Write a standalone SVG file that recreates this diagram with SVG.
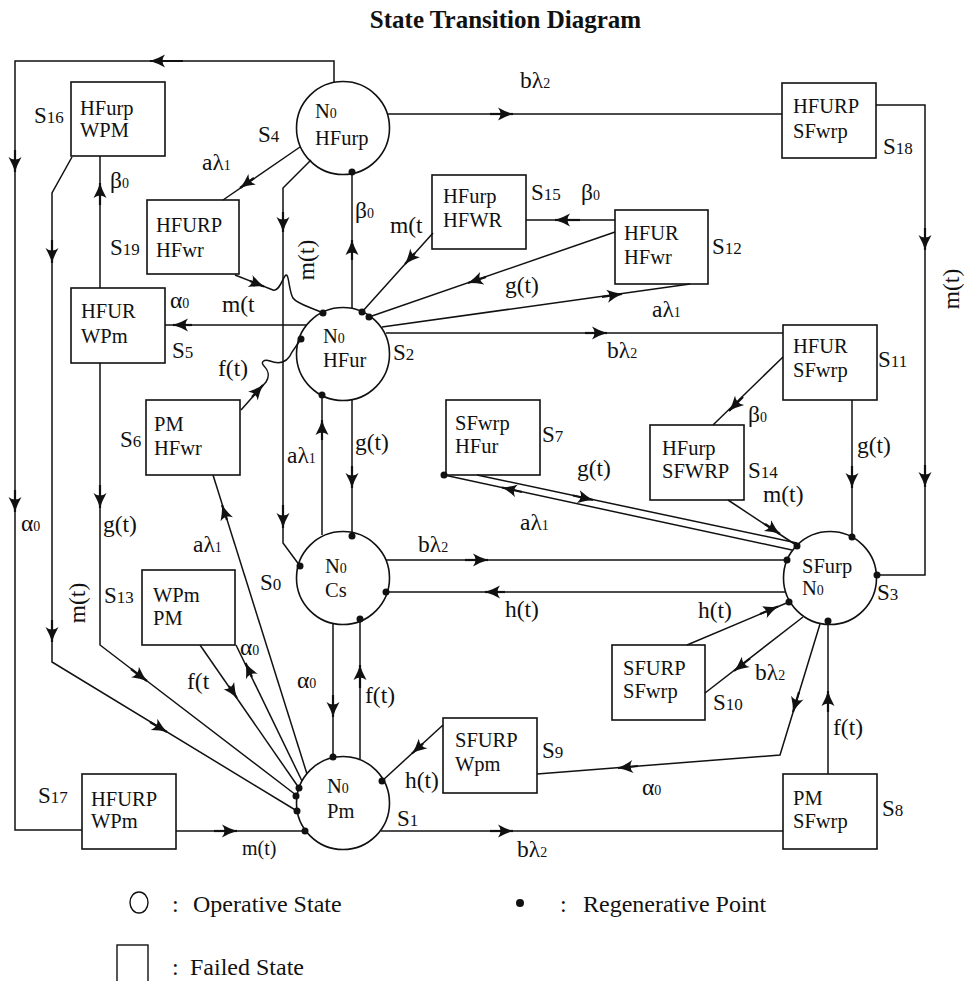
<svg xmlns="http://www.w3.org/2000/svg" width="967" height="981" viewBox="0 0 967 981">
<style>
text{font-family:"Liberation Serif","Times New Roman",serif;fill:#111}
.tt{font-size:25px;font-weight:bold}
.nt{font-size:20.5px}
.lb{font-size:23.5px}
.ls{font-size:20px}
.sl{font-size:23px}
.s{font-size:14px}
.sd{font-size:17px}
.lg{font-size:24px}
.st{fill:#fff;stroke:#111;stroke-width:1.6}
.ln{fill:none;stroke:#111;stroke-width:1.5}
.ah{fill:none;stroke:#111;stroke-width:2.2;marker-end:url(#ar)}
.dot{fill:#111}
</style>
<defs>
<marker id="ar" markerUnits="userSpaceOnUse" markerWidth="20" markerHeight="16" viewBox="-17 -8 19 16" refX="0" refY="0" orient="auto">
<path d="M0,0 Q-7,-2 -15,-6.5 Q-10,0 -15,6.5 Q-7,2 0,0 Z" fill="#111"/>
</marker>
</defs>
<rect width="967" height="981" fill="#fff"/>
<text class="tt" x="505.5" y="28" text-anchor="middle">State Transition Diagram</text>

<!-- operative states -->
<g id="S4"><circle class="st" cx="343" cy="128" r="46.5"/><text class="nt" x="315" y="118">N<tspan class="s">0</tspan></text><text class="nt" x="315" y="145">HFurp</text><text class="sl" x="258" y="142">S<tspan class="sd">4</tspan></text></g>
<g id="S2"><circle class="st" cx="343" cy="354" r="46.5"/><text class="nt" x="323" y="343">N<tspan class="s">0</tspan></text><text class="nt" x="323" y="367">HFur</text><text class="sl" x="393" y="360">S<tspan class="sd">2</tspan></text></g>
<g id="S0"><circle class="st" cx="343" cy="578" r="46.5"/><text class="nt" x="325" y="573">N<tspan class="s">0</tspan></text><text class="nt" x="325" y="597">Cs</text><text class="sl" x="260" y="590">S<tspan class="sd">0</tspan></text></g>
<g id="S1"><circle class="st" cx="343" cy="803" r="46.5"/><text class="nt" x="327" y="793">N<tspan class="s">0</tspan></text><text class="nt" x="327" y="818">Pm</text><text class="sl" x="397" y="826">S<tspan class="sd">1</tspan></text></g>
<g id="S3"><circle class="st" cx="830" cy="578" r="46.5"/><text class="nt" x="802" y="573">SFurp</text><text class="nt" x="802" y="595">N<tspan class="s">0</tspan></text><text class="sl" x="877" y="600">S<tspan class="sd">3</tspan></text></g>

<!-- failed states -->
<g id="S16"><rect class="st" x="71" y="82" width="94" height="74"/><text class="nt" x="80" y="115">HFurp</text><text class="nt" x="80" y="137">WPM</text><text class="sl" x="34" y="123">S<tspan class="sd">16</tspan></text></g>
<g id="S19"><rect class="st" x="147" y="200" width="92" height="74"/><text class="nt" x="156" y="232">HFURP</text><text class="nt" x="156" y="257">HFwr</text><text class="sl" x="110" y="255">S<tspan class="sd">19</tspan></text></g>
<g id="S5"><rect class="st" x="71" y="288" width="94" height="75"/><text class="nt" x="81" y="318">HFUR</text><text class="nt" x="81" y="343">WPm</text><text class="sl" x="172" y="358">S<tspan class="sd">5</tspan></text></g>
<g id="S6"><rect class="st" x="146" y="400" width="94" height="75"/><text class="nt" x="154" y="431">PM</text><text class="nt" x="154" y="455">HFwr</text><text class="sl" x="120" y="447">S<tspan class="sd">6</tspan></text></g>
<g id="S13"><rect class="st" x="142" y="570" width="93" height="75"/><text class="nt" x="153" y="602">WPm</text><text class="nt" x="153" y="625">PM</text><text class="sl" x="104" y="603">S<tspan class="sd">13</tspan></text></g>
<g id="S17"><rect class="st" x="82" y="774" width="94" height="75"/><text class="nt" x="91" y="806">HFURP</text><text class="nt" x="91" y="828">WPm</text><text class="sl" x="38" y="803">S<tspan class="sd">17</tspan></text></g>
<g id="S15"><rect class="st" x="432" y="175" width="94" height="74"/><text class="nt" x="443" y="203">HFurp</text><text class="nt" x="443" y="227">HFWR</text><text class="sl" x="531" y="200">S<tspan class="sd">15</tspan></text></g>
<g id="S12"><rect class="st" x="615" y="210" width="93" height="74"/><text class="nt" x="624" y="240">HFUR</text><text class="nt" x="624" y="264">HFwr</text><text class="sl" x="712" y="254">S<tspan class="sd">12</tspan></text></g>
<g id="S18"><rect class="st" x="782" y="83" width="94" height="75"/><text class="nt" x="793" y="113">HFURP</text><text class="nt" x="793" y="138">SFwrp</text><text class="sl" x="883" y="154">S<tspan class="sd">18</tspan></text></g>
<g id="S11"><rect class="st" x="783" y="325" width="94" height="75"/><text class="nt" x="793" y="353">HFUR</text><text class="nt" x="793" y="377">SFwrp</text><text class="sl" x="878" y="367">S<tspan class="sd">11</tspan></text></g>
<g id="S14"><rect class="st" x="650" y="425" width="94" height="75"/><text class="nt" x="662" y="455">HFurp</text><text class="nt" x="662" y="478">SFWRP</text><text class="sl" x="748" y="478">S<tspan class="sd">14</tspan></text></g>
<g id="S7"><rect class="st" x="446" y="400" width="94" height="75"/><text class="nt" x="455" y="430">SFwrp</text><text class="nt" x="455" y="453">HFur</text><text class="sl" x="542" y="442">S<tspan class="sd">7</tspan></text></g>
<g id="S10"><rect class="st" x="612" y="645" width="93" height="75"/><text class="nt" x="623" y="675">SFURP</text><text class="nt" x="623" y="698">SFwrp</text><text class="sl" x="713" y="710">S<tspan class="sd">10</tspan></text></g>
<g id="S9"><rect class="st" x="443" y="718" width="94" height="75"/><text class="nt" x="455" y="747">SFURP</text><text class="nt" x="455" y="771">Wpm</text><text class="sl" x="542" y="758">S<tspan class="sd">9</tspan></text></g>
<g id="S8"><rect class="st" x="783" y="774" width="94" height="75"/><text class="nt" x="793" y="805">PM</text><text class="nt" x="793" y="828">SFwrp</text><text class="sl" x="882" y="816">S<tspan class="sd">8</tspan></text></g>

<g id="connectors">
<!-- S4 -> S17 loop -->
<path class="ln" d="M334,83 L334,61 L15,61 L15,830 L82,830"/>
<path class="ah" d="M183,61 L150,61"/><path class="ah" d="M15,150 L15,172"/><path class="ah" d="M15,490 L15,512"/>
<text class="lb" x="21" y="531">α<tspan class="s">0</tspan></text>
<!-- S17 -> S1 -->
<path class="ln" d="M176,831 L305,831"/><path class="ah" d="M214,831 L237,831"/>
<text class="ls" x="242" y="855">m(t)</text>
<!-- S16 -> S1 m(t) -->
<path class="ln" d="M72,157 L52,193 L52,662 L297,811"/>
<path class="ah" d="M52,240 L52,263"/><path class="ah" d="M52,620 L52,642"/><path class="ah" d="M150,722 L167,732"/>
<text class="lb" transform="translate(85,603) rotate(-90)" text-anchor="middle">m(t)</text>
<!-- S5 -> S16 beta0 -->
<path class="ln" d="M100,288 L100,156"/><path class="ah" d="M100,205 L100,183"/>
<text class="lb" x="110" y="188">β<tspan class="s">0</tspan></text>
<!-- S5 -> S1 g(t) -->
<path class="ln" d="M100,363 L100,645 L296,795"/>
<path class="ah" d="M100,485 L100,508"/><path class="ah" d="M131,669 L147,681"/>
<text class="lb" x="103" y="532">g(t)</text>
<!-- S13 -> S1 f(t -->
<path class="ln" d="M200,645 L299,788"/><path class="ah" d="M229,686 L237,698"/>
<text class="lb" x="187" y="689">f(t</text>
<!-- S1 -> S13 alpha0 -->
<path class="ln" d="M302,781 L236,645"/><path class="ah" d="M252,677 L245.5,663"/>
<text class="lb" x="240" y="655">α<tspan class="s">0</tspan></text>
<!-- S1 -> S6 a lambda1 -->
<path class="ln" d="M307,774 L213,475"/><path class="ah" d="M227,520 L222,505"/>
<text class="lb" x="193" y="552">aλ<tspan class="s">1</tspan></text>
<!-- S4 -> S19 -->
<path class="ln" d="M300,147 L223,200"/><path class="ah" d="M254,178 L240,188"/>
<text class="lb" x="202" y="170">aλ<tspan class="s">1</tspan></text>
<!-- S4 -> S0 m(t) -->
<path class="ln" d="M311,160 L283,188 L283,543 L300,566"/>
<path class="ah" d="M283,212 L283,232"/><path class="ah" d="M283,505 L283,528"/>
<text class="lb" transform="translate(314,260) rotate(-90)" text-anchor="middle">m(t)</text>
<!-- S19 -> S2 -->
<path class="ln" d="M235,275 L273,290 C280,292 283,276 286,275 C289,274 289,292 293,298 C297,304 310,307 323,313"/>
<path class="ah" d="M250,281 L264,286.5"/>
<!-- S2 -> S5 -->
<path class="ln" d="M306,325 L165,325"/><path class="ah" d="M192,325 L173,325"/>
<text class="lb" x="170" y="308">α<tspan class="s">0</tspan></text>
<text class="lb" x="222" y="312">m(t</text>
<!-- S6 -> S2 f(t) -->
<path class="ln" d="M241,410 L266,382 C270,376 268,370 264,366 C260,362 264,359 270,361 C278,364 287,364 292,352 L301,339"/>
<path class="ah" d="M252,397 L263,385"/>
<text class="lb" x="218" y="376">f(t)</text>
<!-- S2 -> S4 beta0 -->
<path class="ln" d="M352,308 L352,172"/><path class="ah" d="M352,260 L352,240"/>
<text class="lb" x="355" y="218">β<tspan class="s">0</tspan></text>
<!-- S15 -> S2 -->
<path class="ln" d="M433,233 L362,312"/><path class="ah" d="M415,253 L405,264"/>
<text class="lb" x="390" y="233">m(t</text>
<!-- S12 -> S15 -->
<path class="ln" d="M615,220 L526,220"/><path class="ah" d="M580,220 L555,220"/>
<text class="lb" x="581" y="200">β<tspan class="s">0</tspan></text>
<!-- S12 -> S2 g(t) -->
<path class="ln" d="M615,232 L369,317"/><path class="ah" d="M486,277 L468,283"/>
<text class="lb" x="505" y="293">g(t)</text>
<!-- S2 -> S12 a lambda1 -->
<path class="ln" d="M382,327 L690,284"/><path class="ah" d="M602,297 L622,294"/>
<text class="lb" x="652" y="317">aλ<tspan class="s">1</tspan></text>
<!-- S2 -> S11 -->
<path class="ln" d="M386,333 L783,333"/><path class="ah" d="M585,333 L607,333"/>
<text class="lb" x="607" y="358">bλ<tspan class="s">2</tspan></text>
<!-- S4 -> S18 -->
<path class="ln" d="M388,114 L782,114"/><path class="ah" d="M490,114 L513,114"/>
<text class="lb" x="520" y="88">bλ<tspan class="s">2</tspan></text>
<!-- S18 -> S3 -->
<path class="ln" d="M876,105 L925,105 L925,575 L877,575"/>
<path class="ah" d="M925,228 L925,250"/><path class="ah" d="M925,465 L925,487"/>
<text class="lb" transform="translate(959,289) rotate(-90)" text-anchor="middle">m(t)</text>
<!-- S11 -> S14 -->
<path class="ln" d="M783,357 L713,425"/><path class="ah" d="M743,397 L729,411"/>
<text class="lb" x="748" y="422">β<tspan class="s">0</tspan></text>
<!-- S11 -> S3 -->
<path class="ln" d="M852,400 L852,537"/><path class="ah" d="M852,466 L852,488"/>
<text class="lb" x="857" y="453">g(t)</text>
<!-- S14 -> S3 -->
<path class="ln" d="M728,500 L796,545"/><path class="ah" d="M765,524 L780,534"/>
<text class="lb" x="763" y="502">m(t)</text>
<!-- S7 <-> S3 -->
<path class="ln" d="M477,475 L797,543"/><path class="ah" d="M573,495.5 L593,500"/>
<text class="lb" x="577" y="476">g(t)</text>
<path class="ln" d="M792,550 L444,475"/><path class="ah" d="M522,492 L502,487.5"/>
<text class="lb" x="520" y="530">aλ<tspan class="s">1</tspan></text>
<!-- S0 -> S2 -->
<path class="ln" d="M322,535 L322,395"/><path class="ah" d="M322,440 L322,420"/>
<text class="lb" x="287" y="463">aλ<tspan class="s">1</tspan></text>
<!-- S2 -> S0 -->
<path class="ln" d="M352,400 L352,536"/><path class="ah" d="M352,466 L352,488"/>
<text class="lb" x="355" y="450">g(t)</text>
<!-- S0 -> S3 -->
<path class="ln" d="M386,560 L787,560"/><path class="ah" d="M465,560 L488,560"/>
<text class="lb" x="418" y="552">bλ<tspan class="s">2</tspan></text>
<!-- S3 -> S0 -->
<path class="ln" d="M785,592 L386,592"/><path class="ah" d="M505,592 L485,592"/>
<text class="lb" x="505" y="617">h(t)</text>
<!-- S0 -> S1 -->
<path class="ln" d="M333,624 L333,757"/><path class="ah" d="M333,695 L333,717"/>
<text class="lb" x="297" y="688">α<tspan class="s">0</tspan></text>
<!-- S1 -> S0 -->
<path class="ln" d="M360,759 L360,619"/><path class="ah" d="M360,688 L360,665"/>
<text class="lb" x="365" y="703">f(t)</text>
<!-- S9 -> S1 -->
<path class="ln" d="M443,725 L382,781"/><path class="ah" d="M423,743.6 L412,753.5"/>
<text class="lb" x="405" y="788">h(t)</text>
<!-- S3 -> S9 -->
<path class="ln" d="M820,624 L780,755 L537,774"/>
<path class="ah" d="M799,692 L793,712"/><path class="ah" d="M638,766 L618,768"/>
<text class="lb" x="642" y="795">α<tspan class="s">0</tspan></text>
<!-- S8 -> S3 -->
<path class="ln" d="M828,774 L828,621"/><path class="ah" d="M828,712 L828,691"/>
<text class="lb" x="833" y="735">f(t)</text>
<!-- S1 -> S8 -->
<path class="ln" d="M381,831 L783,831"/><path class="ah" d="M490,831 L513,831"/>
<text class="lb" x="517" y="857">bλ<tspan class="s">2</tspan></text>
<!-- S3 -> S10 -->
<path class="ln" d="M803,617 L705,693"/><path class="ah" d="M750,658.5 L734,671"/>
<text class="lb" x="755" y="680">bλ<tspan class="s">2</tspan></text>
<!-- S10 -> S3 -->
<path class="ln" d="M687,645 L789,602"/><path class="ah" d="M760,614 L778,606.6"/>
<text class="lb" x="698" y="618">h(t)</text>

<!-- regenerative points -->
<g class="dot">
<circle cx="352" cy="172" r="3.5"/>
<circle cx="323" cy="313" r="3.5"/><circle cx="301" cy="339" r="3.5"/><circle cx="362" cy="312" r="3.5"/><circle cx="369" cy="317" r="3.5"/><circle cx="322" cy="395" r="3.5"/>
<circle cx="352" cy="536" r="3.5"/><circle cx="300" cy="566" r="3.5"/><circle cx="386" cy="592" r="3.5"/><circle cx="360" cy="619" r="3.5"/>
<circle cx="333" cy="757" r="3.5"/><circle cx="382" cy="781" r="3.5"/><circle cx="299" cy="788" r="3.5"/><circle cx="296" cy="796" r="3.5"/><circle cx="297" cy="811" r="3.5"/><circle cx="305" cy="831" r="3.5"/>
<circle cx="797" cy="546" r="3.5"/><circle cx="787" cy="560" r="3.5"/><circle cx="789" cy="602" r="3.5"/><circle cx="852" cy="537" r="3.5"/><circle cx="877" cy="575" r="3.5"/><circle cx="828" cy="621" r="3.5"/>
<circle cx="444" cy="475" r="3.5"/>
</g>
</g>

<g id="legend">
<ellipse cx="139" cy="902.5" rx="9" ry="10.5" fill="none" stroke="#111" stroke-width="1.4"/>
<text class="lg" x="172" y="912">:</text><text class="lg" x="193" y="912">Operative State</text>
<circle cx="520" cy="903" r="4" fill="#111"/>
<text class="lg" x="560" y="912">:</text><text class="lg" x="583" y="912">Regenerative Point</text>
<rect x="117" y="945" width="31" height="42" fill="none" stroke="#111" stroke-width="1.4"/>
<text class="lg" x="172" y="975">:</text><text class="lg" x="190" y="975">Failed State</text>
</g>
</svg>
